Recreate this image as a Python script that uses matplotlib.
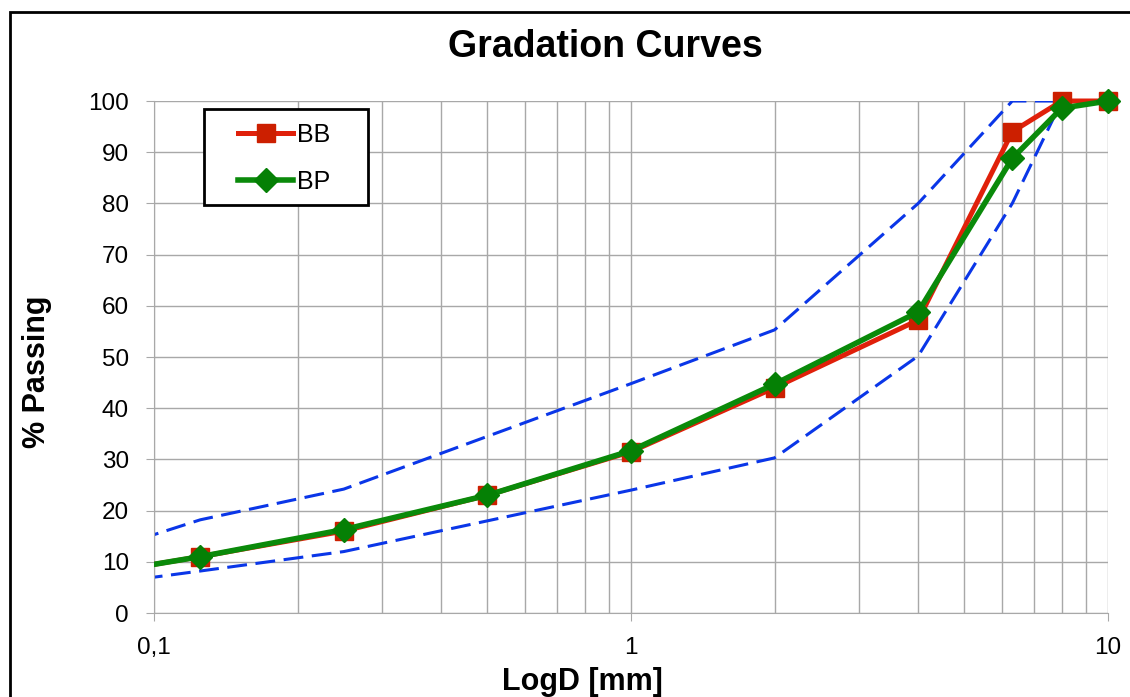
import matplotlib
matplotlib.use('Agg')
import matplotlib.pyplot as plt
from matplotlib.patches import Rectangle
from matplotlib.transforms import Bbox, TransformedBbox
from matplotlib.ticker import FixedLocator, FuncFormatter, LogLocator, NullFormatter

plt.rcParams['font.family'] = ['Liberation Sans', 'DejaVu Sans']

### DATA
sieve = [0.063, 0.125, 0.25, 0.5, 1, 2, 4, 6.3, 8, 10]
bb = [6.4, 11, 16, 23, 31.5, 44, 57.2, 94, 100, 100]
bp = [6.4, 11, 16.3, 23, 31.7, 44.7, 58.8, 88.8, 98.6, 100]

env_x = [0.063, 0.125, 0.25, 0.5, 1, 2, 4, 6.3, 8, 10]
env_upper = [9.3, 18.2, 24.2, 34.5, 44.8, 55.3, 80, 100, 100, 100]
env_lower = [4.5, 8.2, 12, 18, 24, 30.3, 50.2, 80, 100, 100]

x_ticks = [0.1, 1, 10]
x_tick_labels = ['0,1', '1', '10']

W, H = 1130, 697

### PLOT
fig = plt.figure(figsize=(W / 100, H / 100), dpi=100)
ax = fig.add_axes([154 / W, 1 - 613 / H, (1108 - 154) / W, (613 - 101) / H])

# clip horizontally at the left edge, but let markers overflow top/right
clip = TransformedBbox(Bbox([[0, -0.05], [1.05, 1.05]]), ax.transAxes)

for env in (env_upper, env_lower):
    ax.plot(env_x, env, color='#0a36e8', lw=2.2, dashes=(6.5, 2.8), zorder=2)
l1, = ax.plot(sieve, bb, color='#e0200a', lw=3.6, marker='s', ms=13.5,
              mfc='#cc1f00', mec='#cc1f00', label='BB', zorder=3)
l2, = ax.plot(sieve, bp, color='#0a8a0a', lw=4, marker='D', ms=12,
              mfc='#058005', mec='#058005', label='BP', zorder=4)
for ln in (l1, l2):
    ln.set_clip_box(clip)

ax.set_xscale('log')
ax.set_xlim(0.1, 10)
ax.set_ylim(0, 100)
ax.set_yticks(range(0, 101, 10))
ax.xaxis.set_major_locator(FixedLocator(x_ticks))
ax.xaxis.set_major_formatter(FuncFormatter(lambda v, p: x_tick_labels[x_ticks.index(v)] if v in x_ticks else ''))
ax.xaxis.set_minor_locator(LogLocator(base=10, subs=range(2, 10)))
ax.xaxis.set_minor_formatter(NullFormatter())

ax.grid(True, which='major', color='#a8a8a8', lw=1)
ax.grid(True, which='minor', axis='x', color='#a8a8a8', lw=1)
ax.set_axisbelow(True)
for s in ['top', 'right']:
    ax.spines[s].set_visible(False)
for s in ['left', 'bottom']:
    ax.spines[s].set_color('#a8a8a8')
ax.tick_params(axis='both', which='both', colors='#a8a8a8', labelcolor='black',
               labelsize=17.5, length=6)
ax.tick_params(axis='x', which='minor', length=0)
ax.tick_params(axis='y', pad=12)
ax.tick_params(axis='x', pad=11)

fig.text(605 / W, 1 - 47 / H, 'Gradation Curves', fontsize=27, fontweight='bold',
         ha='center', va='center')
fig.text(582 / W, 1 - 690 / H, 'LogD [mm]', fontsize=22, fontweight='bold',
         ha='center', va='baseline')
fig.text(37 / W, 1 - 372 / H, '% Passing', fontsize=22, fontweight='bold',
         ha='center', va='center', rotation=90)

# legend frame drawn by hand, entries without frame
frame = Rectangle((204 / W, 1 - 205 / H), (368 - 204) / W, (205 - 109) / H,
                  transform=fig.transFigure, facecolor='white', edgecolor='black',
                  lw=2, zorder=5, clip_on=False)
ax.add_patch(frame)
leg = ax.legend(loc='upper left', bbox_to_anchor=(238 / W, 1 - 123 / H),
                bbox_transform=fig.transFigure, fontsize=18, frameon=False,
                handlelength=2.2, handletextpad=0.16, labelspacing=0.92,
                borderpad=0, borderaxespad=0)
leg.set_zorder(6)

# chart area border
fig.patches.append(Rectangle((10 / W, -0.05), 1.2, 1 - 12 / H + 0.05,
                             transform=fig.transFigure, fill=False,
                             edgecolor='black', lw=2))

fig.savefig('out.png', dpi=100)
